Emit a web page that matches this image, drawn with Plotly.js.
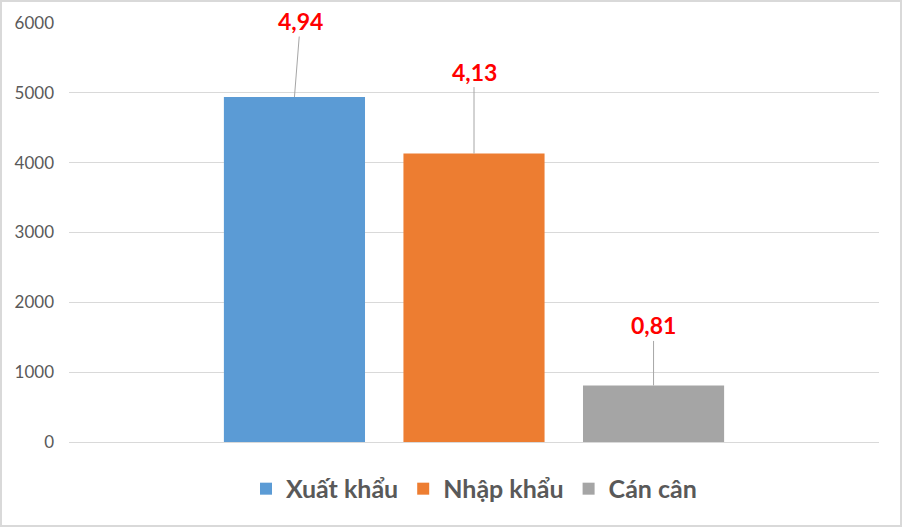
<!DOCTYPE html>
<html>
<head>
<meta charset="utf-8">
<script src="https://cdn.plot.ly/plotly-3.0.1.min.js"></script>
<style>
html,body{margin:0;padding:0;background:#fff;}
#wrap{width:898px;height:523px;border:2px solid #d9d9d9;}
#chart{width:898px;height:523px;}
</style>
</head>
<body>
<div id="wrap"><div id="chart"></div></div>
<script>
const seriesNames = ["Xuất khẩu", "Nhập khẩu", "Cán cân"];
const seriesValues = [4940, 4130, 810];
const labelTexts = ["4,94", "4,13", "0,81"];
const seriesColors = ["#5b9bd5", "#ed7d31", "#a5a5a5"];
const category = [""];
const yTicks = [0, 1000, 2000, 3000, 4000, 5000, 6000];

const bargap = 0.335;
const nSeries = seriesNames.length;
const slot = (1 - bargap) / nSeries;

const traces = seriesNames.map((name, i) => ({
  type: "bar",
  name: name,
  x: [0],
  y: [seriesValues[i]],
  marker: {color: seriesColors[i]},
  hoverinfo: "none"
}));

const labelOffsets = [[6, -76], [0, -82], [0, -60]];
const annotations = seriesValues.map((v, i) => ({
  x: (i - (nSeries - 1) / 2) * slot,
  y: v,
  xref: "x", yref: "y",
  text: "<b>" + labelTexts[i] + "</b>",
  font: {family: "Lato, sans-serif", size: 23, color: "#ff0000"},
  showarrow: true,
  arrowhead: 0,
  arrowwidth: 1,
  arrowcolor: "#a6a6a6",
  ax: labelOffsets[i][0],
  ay: labelOffsets[i][1],
  standoff: 0,
  startstandoff: 0
}));

const layout = {
  width: 898, height: 523,
  margin: {l: 67, r: 21, t: 21, b: 83, pad: 0},
  paper_bgcolor: "#ffffff",
  plot_bgcolor: "#ffffff",
  barmode: "group",
  bargap: bargap,
  bargroupgap: 0.214,
  showlegend: true,
  legend: {
    orientation: "h",
    x: 0.5, xanchor: "center",
    y: -0.112, yanchor: "middle",
    font: {family: "Lato, sans-serif", size: 25, color: "#595959", weight: "bold"},
    itemclick: false
  },
  xaxis: {
    type: "linear",
    range: [-0.5, 0.5],
    showticklabels: false,
    showgrid: false,
    zeroline: false,
    showline: false,
    ticks: ""
  },
  yaxis: {
    range: [0, 6000],
    tickvals: yTicks,
    ticktext: yTicks.map(String),
    showgrid: true,
    gridcolor: "#d9d9d9",
    gridwidth: 1,
    zeroline: true,
    zerolinecolor: "#d9d9d9",
    zerolinewidth: 1,
    showline: false,
    ticks: "",
    ticklabelstandoff: 14,
    tickfont: {family: "Lato, sans-serif", size: 17, color: "#595959"}
  },
  annotations: annotations
};

Plotly.newPlot("chart", traces, layout, {displayModeBar: false, staticPlot: true});
</script>
</body>
</html>
